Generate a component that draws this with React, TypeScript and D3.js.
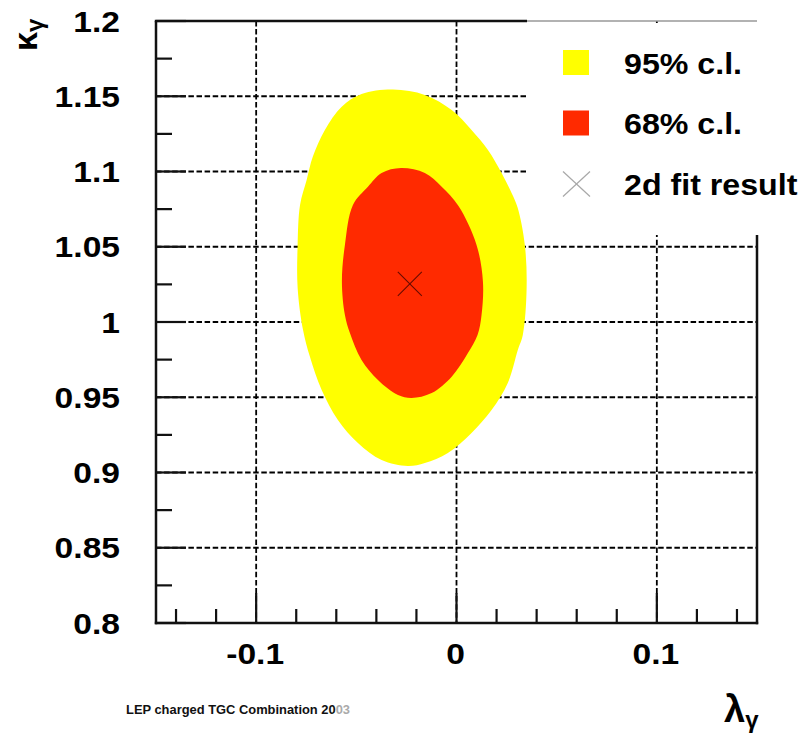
import React from 'react';
import * as d3 from 'd3';

// ---- data ----
const xMajorTicks = [-0.1, 0, 0.1];
const xTickLabels = ['-0.1', '0', '0.1'];
const yMajorTicks = [0.8, 0.85, 0.9, 0.95, 1.0, 1.05, 1.1, 1.15, 1.2];
const yTickLabels = ['0.8', '0.85', '0.9', '0.95', '1', '1.05', '1.1', '1.15', '1.2'];
const xGridValues = [-0.1, 0, 0.1];
const yGridValues = [0.85, 0.9, 0.95, 1.0, 1.05, 1.1, 1.15];

// 95% c.l. contour (lambda, kappa)
const contour95: [number, number][] = [
  [-0.0317, 1.1545], [-0.0158, 1.1509], [-0.0024, 1.1409], [0.0075, 1.1276],
  [0.0157, 1.1143], [0.0225, 1.099], [0.0275, 1.0857], [0.0305, 1.076],
  [0.0341, 1.0512], [0.035, 1.0226], [0.0331, 0.9914], [0.0306, 0.9814],
  [0.0256, 0.9595], [0.0175, 0.9415], [0.0075, 0.9263], [-0.0043, 0.913],
  [-0.0158, 0.9063], [-0.0243, 0.9043], [-0.0374, 0.9083], [-0.0492, 0.9196],
  [-0.0592, 0.9349], [-0.0673, 0.9548], [-0.0732, 0.977], [-0.0766, 0.9947],
  [-0.0793, 1.0226], [-0.0793, 1.0512], [-0.0781, 1.0778], [-0.0748, 1.0944],
  [-0.0717, 1.1099], [-0.0657, 1.1276], [-0.0573, 1.1431], [-0.0474, 1.1515],
];

// 68% c.l. contour (lambda, kappa)
const contour68: [number, number][] = [
  [-0.0277, 1.1023], [-0.0158, 1.099], [-0.0074, 1.0899], [0.001, 1.077],
  [0.01, 1.0512], [0.0132, 1.0268], [0.0125, 1.0047], [0.0105, 0.9914],
  [0.0057, 0.9794], [-0.0024, 0.9637], [-0.0124, 0.9528], [-0.0224, 0.9495],
  [-0.0292, 0.9515], [-0.0392, 0.9615], [-0.0474, 0.9748], [-0.0532, 0.9927],
  [-0.0557, 1.0047], [-0.0572, 1.0268], [-0.0557, 1.0512], [-0.0517, 1.0778],
  [-0.0442, 1.0899], [-0.0374, 1.099],
];

const fitResult: [number, number] = [-0.0233, 1.0253];
const legendLabels = ['95% c.l.', '68% c.l.', '2d fit result'];
const legendColors = ['#ffff00', '#ff2a00'];

// ---- layout ----
const W = 807;
const H = 739;
const L = 156, R = 757, T = 21, B = 623;
const FONT = '"Liberation Sans", Arial, Helvetica, sans-serif';
const SX = 1.12;

const x = d3.scaleLinear().domain([-0.15, 0.15]).range([L, R]);
const y = d3.scaleLinear().domain([0.8, 1.2]).range([B, T]);

const isMajor = (v: number, majors: number[]) => majors.some((m) => Math.abs(m - v) < 1e-6);
const xMinorTicks = d3.range(-0.14, 0.1401, 0.02).filter((v) => !isMajor(v, xMajorTicks));
const yMinorTicks = d3.range(0.825, 1.2, 0.05);

const line = d3
  .line<[number, number]>()
  .x((d) => x(d[0]))
  .y((d) => y(d[1]))
  .curve(d3.curveCatmullRomClosed.alpha(0.5));

function SText(props: { x: number; y: number; anchor: string; size: number; children: React.ReactNode; sx?: number }) {
  const s = props.sx ?? SX;
  return (
    <text
      transform={`translate(${props.x},${props.y}) scale(${s},1)`}
      textAnchor={props.anchor as any}
      fontFamily={FONT}
      fontWeight="bold"
      fontSize={props.size}
      fill="#000"
    >
      {props.children}
    </text>
  );
}

export default function App() {
  const fx = x(fitResult[0]);
  const fy = y(fitResult[1]);
  const legX = 527;
  const legendRowsY = [62.5, 123, 184];
  return (
    <svg
      width={W}
      height={H}
      style={{ position: 'absolute', left: 0, top: 0, background: '#fff' }}
    >
      <rect x={0} y={0} width={W} height={H} fill="#fff" />
      {/* grid */}
      <g stroke="#000" strokeWidth={1.8} strokeDasharray="5.5 2.6">
        {xGridValues.map((v) => (
          <line key={'gx' + v} x1={x(v)} x2={x(v)} y1={T} y2={B} />
        ))}
        {yGridValues.map((v) => (
          <line key={'gy' + v} x1={L} x2={R} y1={y(v)} y2={y(v)} />
        ))}
      </g>
      {/* contours */}
      <path d={line(contour95) || ''} fill="#ffff00" stroke="none" />
      <path d={line(contour68) || ''} fill="#ff2a00" stroke="none" />
      {/* fit marker */}
      <g stroke="#300" strokeWidth={1.1} opacity={0.75}>
        <line x1={fx - 12} y1={fy - 12} x2={fx + 12} y2={fy + 12} />
        <line x1={fx - 12} y1={fy + 12} x2={fx + 12} y2={fy - 12} />
      </g>
      {/* legend box */}
      <rect x={legX} y={23} width={W - legX} height={212} fill="#fff" />
      {legendColors.map((c, i) => (
        <rect key={'lc' + i} x={563} y={legendRowsY[i] - 12.5} width={26} height={25} fill={c} />
      ))}
      <g stroke="#a8a8a8" strokeWidth={1.2}>
        <line x1={563} y1={legendRowsY[2] - 12.5} x2={590} y2={legendRowsY[2] + 12.5} />
        <line x1={563} y1={legendRowsY[2] + 12.5} x2={590} y2={legendRowsY[2] - 12.5} />
      </g>
      {legendLabels.map((t, i) => (
        <SText key={'lt' + i} x={624} y={legendRowsY[i] + 11} anchor="start" size={29} sx={1.11}>
          {t}
        </SText>
      ))}
      {/* frame */}
      <g stroke="#111" strokeWidth={2.5} fill="none">
        <line x1={L - 1.2} x2={legX} y1={T} y2={T} />
        <line x1={legX} x2={R} y1={T} y2={T} stroke="#999" strokeWidth={1.5} />
        <line x1={L} x2={L} y1={T} y2={B + 1.2} />
        <line x1={L - 1.2} x2={R + 1.2} y1={B} y2={B} />
        <line x1={R} x2={R} y1={235} y2={B + 1.2} />
      </g>
      {/* ticks */}
      <g stroke="#111" strokeWidth={2.2}>
        {xMajorTicks.map((v) => (
          <line key={'xt' + v} x1={x(v)} x2={x(v)} y1={B} y2={B - 30} />
        ))}
        {xMinorTicks.map((v) => (
          <line key={'xm' + v} x1={x(v)} x2={x(v)} y1={B} y2={B - 14} />
        ))}
        {yMajorTicks.map((v) => (
          <line key={'yt' + v} x1={L} x2={L + 30} y1={y(v)} y2={y(v)} />
        ))}
        {yMinorTicks.map((v) => (
          <line key={'ym' + v} x1={L} x2={L + 16} y1={y(v)} y2={y(v)} />
        ))}
      </g>
      {/* tick labels */}
      {yMajorTicks.map((v, i) => (
        <SText key={'yl' + v} x={120} y={y(v) + 10.7} anchor="end" size={30}>
          {yTickLabels[i]}
        </SText>
      ))}
      {xMajorTicks.map((v, i) => (
        <SText key={'xl' + v} x={x(v) - 1} y={664} anchor="middle" size={30}>
          {xTickLabels[i]}
        </SText>
      ))}
      {/* axis titles */}
      <text
        transform="translate(37,51) rotate(-90)"
        fontFamily={FONT}
        fontWeight="bold"
        fontSize={34}
        fill="#000"
      >
        κ<tspan dy={6} fontSize={24}>γ</tspan>
      </text>
      <text x={724} y={722} fontFamily={FONT} fontWeight="bold" fontSize={38} fill="#000">
        λ<tspan dy={6} fontSize={24}>γ</tspan>
      </text>
      {/* bottom note */}
      <text
        x={126}
        y={714}
        fontFamily={FONT}
        fontWeight="bold"
        fontSize={12.5}
        fill="#111"
        textLength={224}
        lengthAdjust="spacingAndGlyphs"
      >
        LEP charged TGC Combination 20<tspan fill="#aaa">03</tspan>
      </text>
    </svg>
  );
}
